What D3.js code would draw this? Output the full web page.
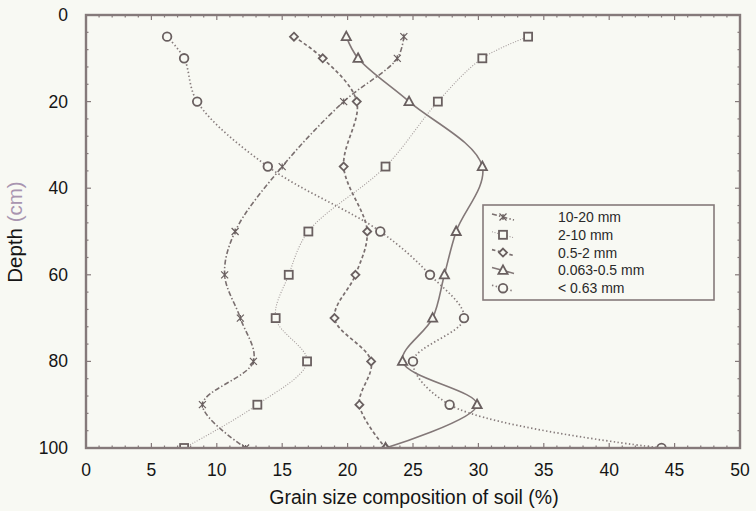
<!DOCTYPE html>
<html>
<head>
<meta charset="utf-8">
<script src="https://cdn.jsdelivr.net/npm/d3@7"></script>
<style>
  html, body { margin: 0; padding: 0; background: #f8f9f3; }
  svg { display: block; font-family: "Liberation Sans", Arial, sans-serif; }
</style>
</head>
<body>
<svg id="chart" width="756" height="511"></svg>
<script>
// Sampling depths (cm)
const depths = [5, 10, 20, 35, 50, 60, 70, 80, 90, 100];

// Grain size fractions (% of soil) at each depth
const frac10to20 = [24.3, 23.8, 19.7, 15.0, 11.4, 10.6, 11.8, 12.8, 8.9, 12.2];
const frac2to10 = [33.8, 30.3, 26.9, 22.9, 17.0, 15.5, 14.5, 16.9, 13.1, 7.5];
const frac05to2 = [15.9, 18.1, 20.7, 19.7, 21.5, 20.6, 19.0, 21.8, 20.9, 22.9];
const frac0063to05 = [19.9, 20.8, 24.7, 30.3, 28.3, 27.4, 26.5, 24.2, 29.9, 22.9];
const fracFine = [6.2, 7.5, 8.5, 13.9, 22.5, 26.3, 28.9, 25.0, 27.8, 44.0];

const seriesNames = ["10-20 mm", "2-10 mm", "0.5-2 mm", "0.063-0.5 mm", "< 0.63 mm"];

const xTicks = [0, 5, 10, 15, 20, 25, 30, 35, 40, 45, 50];
const yTicks = [0, 20, 40, 60, 80, 100];

const series = [
  { name: seriesNames[0], values: frac10to20, marker: "cross",
    stroke: "#7a6f6f", width: 1.6, dash: "5,2.2,1.4,2.2" },
  { name: seriesNames[1], values: frac2to10, marker: "square",
    stroke: "#a39a9a", width: 1.1, dash: "1,1.6" },
  { name: seriesNames[2], values: frac05to2, marker: "diamond",
    stroke: "#7a6f6f", width: 1.7, dash: "3.5,2.5" },
  { name: seriesNames[3], values: frac0063to05, marker: "triangle",
    stroke: "#837878", width: 1.6, dash: null },
  { name: seriesNames[4], values: fracFine, marker: "circle",
    stroke: "#877c7c", width: 1.7, dash: "1.4,2.4" }
];

const svg = d3.select("#chart");
const margin = { left: 86, right: 16, top: 15, bottom: 63 };
const W = 756, H = 511;
const x = d3.scaleLinear().domain([0, 50]).range([margin.left, W - margin.right]);
const y = d3.scaleLinear().domain([0, 100]).range([margin.top, H - margin.bottom]);

const frameColor = "#857a7a";
const markColor = "#6a6060";

svg.append("defs").append("clipPath").attr("id", "plot-clip")
  .append("rect")
  .attr("x", x(0)).attr("y", y(0))
  .attr("width", x(50) - x(0)).attr("height", y(100) - y(0));

// Inward ticks on all four sides
const tickG = svg.append("g").attr("stroke", frameColor).attr("stroke-width", 1.2);
d3.range(1, 50).forEach(v => {
  const len = v % 5 === 0 ? 5 : 2.5;
  tickG.append("line").attr("x1", x(v)).attr("x2", x(v)).attr("y1", y(100)).attr("y2", y(100) - len);
  tickG.append("line").attr("x1", x(v)).attr("x2", x(v)).attr("y1", y(0)).attr("y2", y(0) + len);
});
d3.range(4, 100, 4).forEach(v => {
  const len = v % 20 === 0 ? 5 : 2.5;
  tickG.append("line").attr("y1", y(v)).attr("y2", y(v)).attr("x1", x(0)).attr("x2", x(0) + len);
  tickG.append("line").attr("y1", y(v)).attr("y2", y(v)).attr("x1", x(50)).attr("x2", x(50) - len);
});

// Tick labels
svg.append("g").selectAll("text").data(xTicks).join("text")
  .attr("x", d => x(d)).attr("y", 476)
  .attr("text-anchor", "middle").attr("font-size", 17.5).attr("fill", "#151515")
  .text(d => d);
svg.append("g").selectAll("text").data(yTicks).join("text")
  .attr("x", 68).attr("y", d => y(d) + 6)
  .attr("text-anchor", "end").attr("font-size", 17.5).attr("fill", "#151515")
  .text(d => d);

// Axis titles
svg.append("text")
  .attr("x", 414).attr("y", 504)
  .attr("text-anchor", "middle").attr("font-size", 19.5).attr("fill", "#151515")
  .text("Grain size composition of soil (%)");
const yTitle = svg.append("text")
  .attr("transform", `translate(22,232) rotate(-90)`)
  .attr("text-anchor", "middle").attr("font-size", 20.5).attr("fill", "#151515");
yTitle.append("tspan").text("Depth ");
yTitle.append("tspan").attr("fill", "#a995b0").text("(cm)");

// Marker drawing
function drawMarker(g, type, cx, cy, color) {
  const s = g.append("g").attr("transform", `translate(${cx},${cy})`)
    .attr("fill", "#f8f9f3").attr("stroke", color).attr("stroke-width", 1.8);
  if (type === "circle") s.append("circle").attr("r", 4.3);
  else if (type === "square") s.append("rect").attr("x", -4).attr("y", -4).attr("width", 8).attr("height", 8);
  else if (type === "diamond") s.append("path").attr("d", "M0,-4L4,0L0,4L-4,0Z");
  else if (type === "triangle") s.append("path").attr("d", "M0,-5L4.6,3.5L-4.6,3.5Z");
  else if (type === "cross") {
    s.attr("stroke-width", 1.2).attr("fill", "none");
    s.append("path").attr("d", "M-3.5,-3.5L3.5,3.5M3.5,-3.5L-3.5,3.5M0,-3L0,3");
  }
}

const line = d3.line()
  .x(d => x(d[0]))
  .y(d => y(d[1]))
  .curve(d3.curveCatmullRom.alpha(0.5));

const plot = svg.append("g").attr("clip-path", "url(#plot-clip)");
series.forEach(s => {
  const pts = depths.map((dp, i) => [s.values[i], dp]);
  plot.append("path")
    .attr("d", line(pts))
    .attr("fill", "none")
    .attr("stroke", s.stroke)
    .attr("stroke-width", s.width)
    .attr("stroke-linecap", s.dash ? "butt" : "round")
    .attr("stroke-dasharray", s.dash);
});
series.forEach(s => {
  depths.forEach((dp, i) => drawMarker(plot, s.marker, x(s.values[i]), y(dp), markColor));
});

// Plot frame
svg.append("rect")
  .attr("x", x(0)).attr("y", y(0))
  .attr("width", x(50) - x(0)).attr("height", y(100) - y(0))
  .attr("fill", "none").attr("stroke", frameColor).attr("stroke-width", 2.4);

// Legend
const lg = svg.append("g");
lg.append("rect")
  .attr("x", 483).attr("y", 205).attr("width", 231).attr("height", 95)
  .attr("fill", "#f8f9f3").attr("stroke", frameColor).attr("stroke-width", 1.6);
series.forEach((s, i) => {
  const ly = 217 + i * 17.8;
  lg.append("line")
    .attr("x1", 492).attr("x2", 514).attr("y1", ly - 3).attr("y2", ly + 3)
    .attr("stroke", s.stroke).attr("stroke-width", s.width)
    .attr("stroke-dasharray", s.dash);
  drawMarker(lg, s.marker, 503, ly, markColor);
  lg.append("text")
    .attr("x", 558).attr("y", ly + 5)
    .attr("font-size", 14).attr("fill", "#2a2a2a")
    .text(s.name);
});
</script>
</body>
</html>
